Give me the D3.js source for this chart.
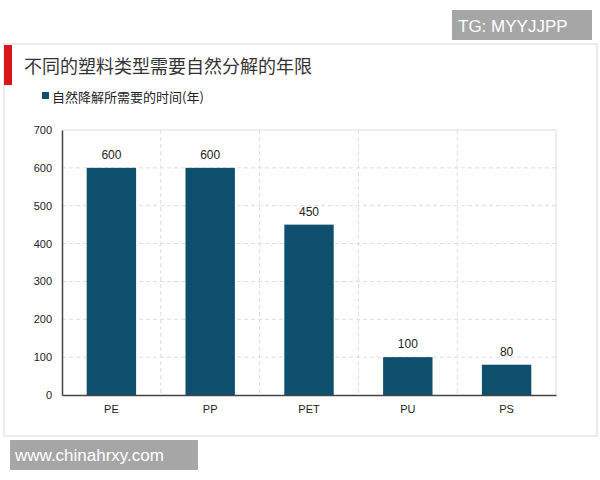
<!DOCTYPE html>
<html lang="zh">
  <head>
    <meta charset="UTF-8">
    <script src="https://d3js.org/d3.v7.min.js"></script>
    <title>不同的塑料类型需要自然分解的年限</title>
    <style>
      body { margin: 0; background: #fff; }
      svg { display: block; font-family: "Liberation Sans", Arial, "Noto Sans CJK SC", sans-serif; }
    </style>
  </head>
  <body>
    <div id="chart"></div>
    <script>
      // данные
      const categories = ['PE', 'PP', 'PET', 'PU', 'PS'];
      const values = [600, 600, 450, 100, 80];
      const yTicks = [0, 100, 200, 300, 400, 500, 600, 700];
      const seriesName = '自然降解所需要的时间(年)';

      const width = 600, height = 480;
      const svg = d3.select('#chart').append('svg')
        .attr('width', width).attr('height', height);

      // рамка карточки
      svg.append('rect').attr('x', 4).attr('y', 44).attr('width', 593).attr('height', 392)
        .attr('fill', '#fff').attr('stroke', '#e6e6e6').attr('stroke-width', 1.5);
      svg.append('rect').attr('x', 4).attr('y', 45).attr('width', 8).attr('height', 40).attr('fill', '#d9161c');

      svg.append('text').attr('x', 24).attr('y', 73).attr('font-size', 18).attr('fill', '#333')
        .style('font-family', '"Noto Sans CJK SC", sans-serif').text('不同的塑料类型需要自然分解的年限');

      svg.append('rect').attr('x', 42).attr('y', 92).attr('width', 7).attr('height', 7).attr('fill', '#0d4f6c');
      svg.append('text').attr('x', 52).attr('y', 102).attr('font-size', 13).attr('fill', '#222')
        .style('font-family', '"Noto Sans CJK SC", sans-serif').text(seriesName);

      const x = d3.scaleBand().domain(categories).range([62, 556]).paddingInner(0.5).paddingOuter(0.25);
      const y = d3.scaleLinear().domain([0, 700]).range([395, 130]);

      // сетка
      const g = svg.append('g');
      g.selectAll('.hg').data(yTicks.slice(1, -1)).enter().append('line')
        .attr('x1', 62).attr('x2', 556).attr('y1', d => y(d)).attr('y2', d => y(d))
        .attr('stroke', '#ddd').attr('stroke-dasharray', '4,3');
      g.selectAll('.vg').data(categories.slice(1)).enter().append('line')
        .attr('x1', d => x(d) - x.step() * 0.25)
        .attr('x2', d => x(d) - x.step() * 0.25)
        .attr('y1', 130).attr('y2', 395)
        .attr('stroke', '#ddd').attr('stroke-dasharray', '4,3');
      g.append('line').attr('x1', 62).attr('x2', 556).attr('y1', 130).attr('y2', 130).attr('stroke', '#ddd');
      g.append('line').attr('x1', 556).attr('x2', 556).attr('y1', 130).attr('y2', 395).attr('stroke', '#ddd');

      svg.selectAll('.bar').data(values).enter().append('rect')
        .attr('x', (d, i) => x(categories[i])).attr('width', x.bandwidth())
        .attr('y', d => y(d)).attr('height', d => y(0) - y(d)).attr('fill', '#0d4f6c');

      svg.selectAll('.lbl').data(values).enter().append('text')
        .attr('x', (d, i) => x(categories[i]) + x.bandwidth() / 2).attr('y', d => y(d) - 9)
        .attr('text-anchor', 'middle').attr('font-size', 12).attr('fill', '#222').text(d => d);

      // оси
      const yAxis = svg.append('g').attr('transform', 'translate(62,0)')
        .call(d3.axisLeft(y).tickValues(yTicks).tickSize(0).tickPadding(10));
      yAxis.select('.domain').attr('stroke', '#444').attr('stroke-width', 1.5);
      yAxis.selectAll('text').attr('font-size', 11).attr('fill', '#222');

      const xAxis = svg.append('g').attr('transform', 'translate(0,395)')
        .call(d3.axisBottom(x).tickSize(0).tickPadding(10));
      xAxis.select('.domain').attr('stroke', '#444').attr('stroke-width', 1.5);
      xAxis.selectAll('text').attr('font-size', 11).attr('fill', '#222');

      // водяные знаки
      svg.append('rect').attr('x', 452).attr('y', 10).attr('width', 140).attr('height', 30).attr('fill', '#a6a6a6');
      svg.append('text').attr('x', 458).attr('y', 32).attr('font-size', 17).attr('fill', '#fff').text('TG: MYYJJPP');
      svg.append('rect').attr('x', 10).attr('y', 440).attr('width', 188).attr('height', 30).attr('fill', '#a6a6a6');
      svg.append('text').attr('x', 15).attr('y', 461).attr('font-size', 17).attr('fill', '#fff').text('www.chinahrxy.com');
    </script>
  </body>
</html>
